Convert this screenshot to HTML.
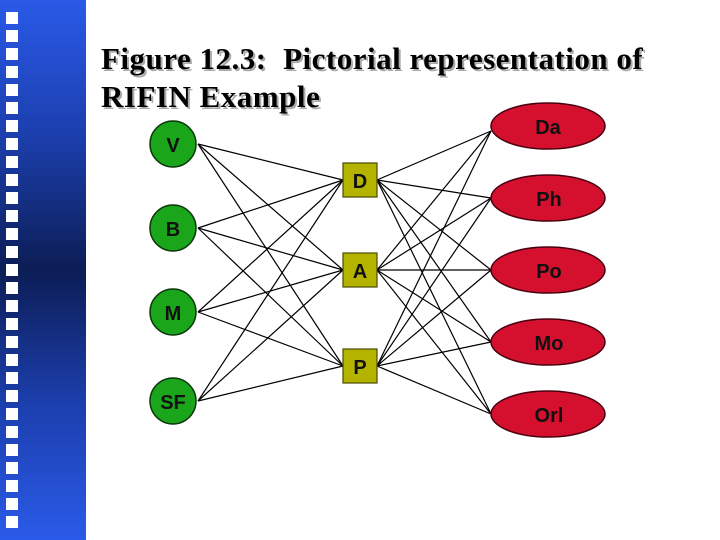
<!DOCTYPE html>
<html><head><style>
body{margin:0;width:720px;height:540px;overflow:hidden;background:#fff;position:relative}
#bar{position:absolute;left:0;top:0;width:86px;height:540px;background:linear-gradient(#2a5ae8 0%,#1c3fae 25%,#0c1d55 50%,#1c3fae 75%,#2a5ae8 100%)}
.sq{position:absolute;left:6px;width:12px;height:12px;background:#fff}
h1{position:absolute;left:101px;top:40px;margin:0;font:bold 31px/38px "Liberation Serif",serif;letter-spacing:0.5px;color:#000;text-shadow:2px 2px 0 #aaa;white-space:nowrap}
</style></head><body>
<div id="bar"></div>
<div id="sqs"></div>
<h1>Figure 12.3:&nbsp; Pictorial representation of<br>RIFIN Example</h1>
<svg width="720" height="540" style="position:absolute;left:0;top:0">
<g stroke="#000" stroke-width="1.2">
<line x1="198" y1="144" x2="343" y2="180"/><line x1="198" y1="144" x2="343" y2="270"/><line x1="198" y1="144" x2="343" y2="366"/>
<line x1="198" y1="228" x2="343" y2="180"/><line x1="198" y1="228" x2="343" y2="270"/><line x1="198" y1="228" x2="343" y2="366"/>
<line x1="198" y1="312" x2="343" y2="180"/><line x1="198" y1="312" x2="343" y2="270"/><line x1="198" y1="312" x2="343" y2="366"/>
<line x1="198" y1="401" x2="343" y2="180"/><line x1="198" y1="401" x2="343" y2="270"/><line x1="198" y1="401" x2="343" y2="366"/>
<line x1="377" y1="180" x2="491" y2="131"/><line x1="377" y1="180" x2="491" y2="198"/><line x1="377" y1="180" x2="491" y2="270"/><line x1="377" y1="180" x2="491" y2="342"/><line x1="377" y1="180" x2="491" y2="414"/>
<line x1="377" y1="270" x2="491" y2="131"/><line x1="377" y1="270" x2="491" y2="198"/><line x1="377" y1="270" x2="491" y2="270"/><line x1="377" y1="270" x2="491" y2="342"/><line x1="377" y1="270" x2="491" y2="414"/>
<line x1="377" y1="366" x2="491" y2="131"/><line x1="377" y1="366" x2="491" y2="198"/><line x1="377" y1="366" x2="491" y2="270"/><line x1="377" y1="366" x2="491" y2="342"/><line x1="377" y1="366" x2="491" y2="414"/>
</g>
<g fill="#1aa51a" stroke="#0b3a0b" stroke-width="1.5">
<circle cx="173" cy="144" r="23"/><circle cx="173" cy="228" r="23"/><circle cx="173" cy="312" r="23"/><circle cx="173" cy="401" r="23"/>
</g>
<g fill="#b4b400" stroke="#4a4a00" stroke-width="1.2">
<rect x="343" y="163" width="34" height="34"/><rect x="343" y="253" width="34" height="34"/><rect x="343" y="349" width="34" height="34"/>
</g>
<g fill="#d4102e" stroke="#4a0010" stroke-width="1.5">
<ellipse cx="548" cy="126" rx="57" ry="23"/><ellipse cx="548" cy="198" rx="57" ry="23"/><ellipse cx="548" cy="270" rx="57" ry="23"/><ellipse cx="548" cy="342" rx="57" ry="23"/><ellipse cx="548" cy="414" rx="57" ry="23"/>
</g>
<g font-family="Liberation Sans, sans-serif" font-size="20" font-weight="bold" text-anchor="middle" fill="#111">
<text x="173" y="152">V</text><text x="173" y="236">B</text><text x="173" y="320">M</text><text x="173" y="409">SF</text>
<text x="360" y="188">D</text><text x="360" y="278">A</text><text x="360" y="374">P</text>
<text x="548" y="134">Da</text><text x="549" y="206">Ph</text><text x="549" y="278">Po</text><text x="549" y="350">Mo</text><text x="549" y="422">Orl</text>
</g>
</svg>
<script>
var s='';for(var i=0;i<29;i++){s+='<div class="sq" style="top:'+(12+i*18)+'px"></div>';}
document.getElementById('sqs').innerHTML=s;
</script>
</body></html>
